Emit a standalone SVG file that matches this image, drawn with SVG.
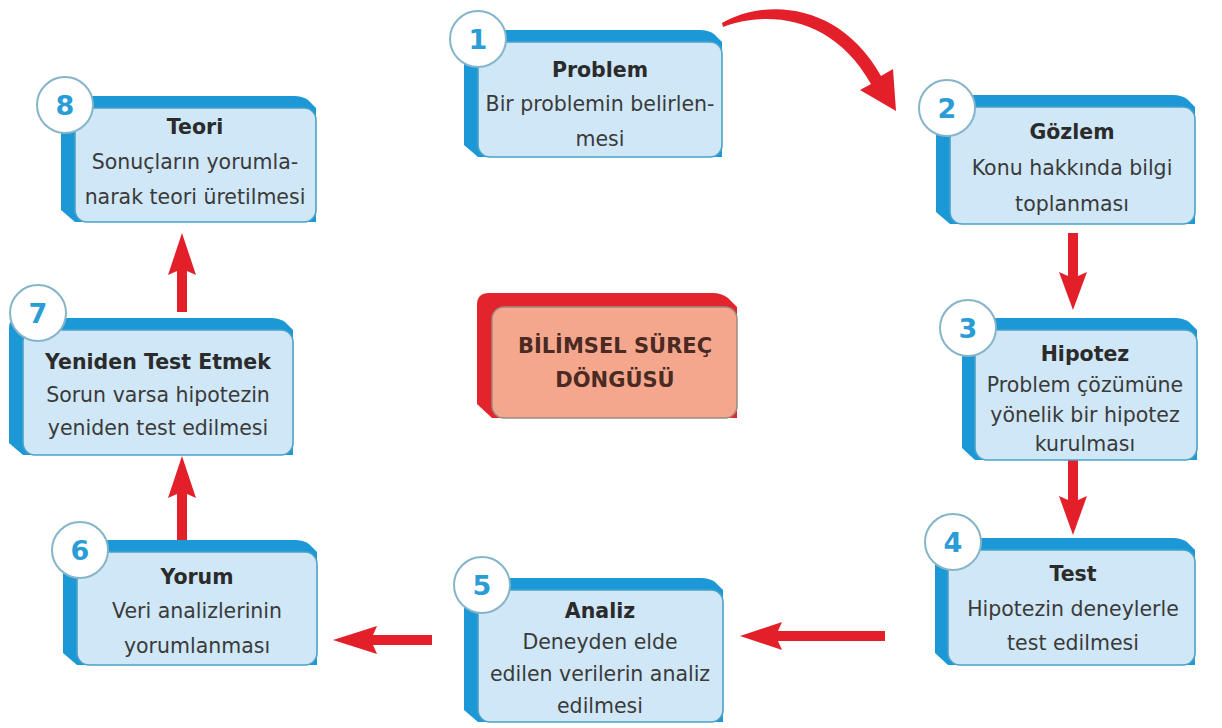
<svg xmlns="http://www.w3.org/2000/svg" width="1222" height="728" viewBox="0 0 1222 728">
<defs>
<style>
.back{fill:#1b98d5}
.front{fill:#cfe7f7;stroke:#4aa2c6;stroke-width:1.6}
.circ{fill:#ffffff;stroke:#86b5c9;stroke-width:2}
.num{font-family:"DejaVu Sans",sans-serif;font-weight:bold;font-size:27px;fill:#2a9dd6;text-anchor:middle}
.t{font-family:"DejaVu Sans",sans-serif;font-weight:bold;font-size:20.5px;fill:#2b2b2b;text-anchor:middle}
.b{font-family:"DejaVu Sans",sans-serif;font-size:20.5px;fill:#3a3a3a;text-anchor:middle}
.arr{fill:#e3202a}
.cback{fill:#e4242c}
.cfront{fill:#f4a78d;stroke:#9c8a82;stroke-width:1.5}
.ct{font-family:"DejaVu Sans",sans-serif;font-weight:bold;font-size:21px;fill:#4a2a22;text-anchor:middle}
</style>
</defs>
<rect width="1222" height="728" fill="#ffffff"/>

<g id="connectors">
<path class="arr" d="M 722 23 C 765 -2, 840 2, 881 76 L 893 69 L 896 111 L 860 90 L 871 84 C 833 16, 768 10, 723 27 Z"/>
<polygon class="arr" points="1068,233 1078,233 1078,276 1087,272 1073,310 1059,272 1068,276"/>
<polygon class="arr" points="1068,460 1078,460 1078,500 1087,496 1073,535 1059,496 1068,500"/>
<polygon class="arr" points="885,631 885,641 778,641 782,650 740,636 782,622 778,631"/>
<polygon class="arr" points="432,635 432,645 373,645 377,654 333,640 377,626 373,635"/>
<polygon class="arr" points="177,540 187,540 187,494 196,498 182,456 168,498 177,494"/>
<polygon class="arr" points="177,312 187,312 187,271 196,275 182,233 168,275 177,271"/>
</g>

<g id="node1">
<path class="back" d="M 464 40 Q 464 30 474 30 L 700 30 Q 708 30 714 34 L 722 42 L 722 157 L 478 157 L 464 145 Z"/>
<rect class="front" x="478" y="42" width="244" height="115" rx="12"/>
<circle class="circ" cx="478" cy="39" r="28"/>
<text class="num" x="478" y="49">1</text>
<text class="t" x="600" y="77">Problem</text>
<text class="b" x="600" y="111">Bir problemin belirlen-</text>
<text class="b" x="600" y="146">mesi</text>
</g>

<g id="node2">
<path class="back" d="M 936 105 Q 936 95 946 95 L 1173 95 Q 1181 95 1187 99 L 1195 107 L 1195 224 L 950 224 L 936 212 Z"/>
<rect class="front" x="950" y="107" width="245" height="117" rx="12"/>
<circle class="circ" cx="947" cy="108" r="28"/>
<text class="num" x="947" y="118">2</text>
<text class="t" x="1072" y="139">Gözlem</text>
<text class="b" x="1072" y="175">Konu hakkında bilgi</text>
<text class="b" x="1072" y="211">toplanması</text>
</g>

<g id="node3">
<path class="back" d="M 962 328 Q 962 318 972 318 L 1175 318 Q 1183 318 1189 322 L 1197 330 L 1197 460 L 975 460 L 962 448 Z"/>
<rect class="front" x="975" y="330" width="222" height="130" rx="12"/>
<circle class="circ" cx="968" cy="328" r="28"/>
<text class="num" x="968" y="338">3</text>
<text class="t" x="1085" y="361">Hipotez</text>
<text class="b" x="1085" y="392">Problem çözümüne</text>
<text class="b" x="1085" y="422">yönelik bir hipotez</text>
<text class="b" x="1085" y="451">kurulması</text>
</g>

<g id="node4">
<path class="back" d="M 935 548 Q 935 538 945 538 L 1173 538 Q 1181 538 1187 542 L 1195 550 L 1195 665 L 948 665 L 935 653 Z"/>
<rect class="front" x="948" y="550" width="247" height="115" rx="12"/>
<circle class="circ" cx="953" cy="542" r="28"/>
<text class="num" x="953" y="552">4</text>
<text class="t" x="1073" y="581">Test</text>
<text class="b" x="1073" y="616">Hipotezin deneylerle</text>
<text class="b" x="1073" y="650">test edilmesi</text>
</g>

<g id="node5">
<path class="back" d="M 464 588 Q 464 578 474 578 L 701 578 Q 709 578 715 582 L 723 590 L 723 722 L 478 722 L 464 710 Z"/>
<rect class="front" x="478" y="590" width="245" height="132" rx="12"/>
<circle class="circ" cx="482" cy="585" r="28"/>
<text class="num" x="482" y="595">5</text>
<text class="t" x="600" y="618">Analiz</text>
<text class="b" x="600" y="649">Deneyden elde</text>
<text class="b" x="600" y="681">edilen verilerin analiz</text>
<text class="b" x="600" y="713">edilmesi</text>
</g>

<g id="node6">
<path class="back" d="M 63 550 Q 63 540 73 540 L 295 540 Q 303 540 309 544 L 317 552 L 317 665 L 77 665 L 63 653 Z"/>
<rect class="front" x="77" y="552" width="240" height="113" rx="12"/>
<circle class="circ" cx="80" cy="550" r="28"/>
<text class="num" x="80" y="560">6</text>
<text class="t" x="197" y="584">Yorum</text>
<text class="b" x="197" y="618">Veri analizlerinin</text>
<text class="b" x="197" y="653">yorumlanması</text>
</g>

<g id="node7">
<path class="back" d="M 9 328 Q 9 318 19 318 L 271 318 Q 279 318 285 322 L 293 330 L 293 455 L 23 455 L 9 443 Z"/>
<rect class="front" x="23" y="330" width="270" height="125" rx="12"/>
<circle class="circ" cx="38" cy="313" r="28"/>
<text class="num" x="38" y="323">7</text>
<text class="t" x="158" y="369">Yeniden Test Etmek</text>
<text class="b" x="158" y="402">Sorun varsa hipotezin</text>
<text class="b" x="158" y="435">yeniden test edilmesi</text>
</g>

<g id="node8">
<path class="back" d="M 61 106 Q 61 96 71 96 L 294 96 Q 302 96 308 100 L 316 108 L 316 222 L 75 222 L 61 210 Z"/>
<rect class="front" x="75" y="108" width="241" height="114" rx="12"/>
<circle class="circ" cx="65" cy="105" r="28"/>
<text class="num" x="65" y="115">8</text>
<text class="t" x="195" y="134">Teori</text>
<text class="b" x="195" y="169">Sonuçların yorumla-</text>
<text class="b" x="195" y="204">narak teori üretilmesi</text>
</g>

<g id="center">
<path class="cback" d="M 477 305 Q 477 293 489 293 L 713 293 Q 721 293 728 298 L 737 307 L 737 418 L 492 418 L 477 404 Z"/>
<rect class="cfront" x="492" y="307" width="245" height="111" rx="12"/>
<text class="ct" x="615" y="353">BİLİMSEL SÜREÇ</text>
<text class="ct" x="615" y="387">DÖNGÜSÜ</text>
</g>
</svg>
